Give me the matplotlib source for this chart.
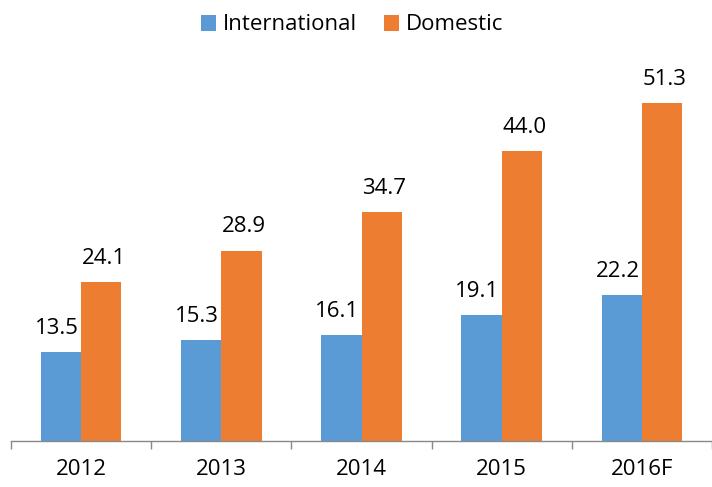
import numpy as np
import matplotlib.pyplot as plt

# Datos
years = ["2012", "2013", "2014", "2015", "2016F"]
international = [13.5, 15.3, 16.1, 19.1, 22.2]
domestic = [24.1, 28.9, 34.7, 44.0, 51.3]

blue = "#5B9BD5"
orange = "#ED7D31"
font = "Open Sans"

fig = plt.figure(figsize=(7.12, 4.87), dpi=100)
ax = fig.add_axes([11 / 712, 46 / 487, 701 / 712, 381 / 487])

x = np.arange(len(years))
w = 0.287
b1 = ax.bar(x - w / 2, international, w, color=blue, label="International")
b2 = ax.bar(x + w / 2, domestic, w, color=orange, label="Domestic")

for bars, vals, dx in ((b1, international, -3), (b2, domestic, 2)):
    for bar, v in zip(bars, vals):
        ax.annotate(f"{v:.1f}", (bar.get_x() + bar.get_width() / 2, v),
                    xytext=(dx, 13), textcoords="offset points",
                    ha="center", va="baseline", fontsize=16, family=font)

# 142.7 px por categoría, el eje se corta en el borde derecho
ax.set_xlim(-0.5, 701 / 142.7 - 0.5)
ax.set_ylim(0, 57.8)

# ticks en los límites de cada categoría, etiquetas en el centro
ax.set_xticks(np.arange(len(years) + 1) - 0.5)
ax.set_xticklabels([])
ax.set_xticks(x, minor=True)
ax.set_xticklabels(years, minor=True, fontsize=16, family=font)
ax.tick_params(axis="x", which="major", length=6, width=1, color="#898989")
ax.tick_params(axis="x", which="minor", length=0, pad=13)
ax.set_yticks([])

for s in ("top", "right", "left"):
    ax.spines[s].set_visible(False)
ax.spines["bottom"].set_color("#898989")
ax.spines["bottom"].set_linewidth(1)

fig.legend(loc="center", bbox_to_anchor=(352 / 712, 1 - 25 / 487), ncol=2,
           frameon=False, prop={"family": font, "size": 16},
           handlelength=0.7, handleheight=0.7, handletextpad=0.3,
           columnspacing=1.2)

plt.savefig("out.png", dpi=100)
